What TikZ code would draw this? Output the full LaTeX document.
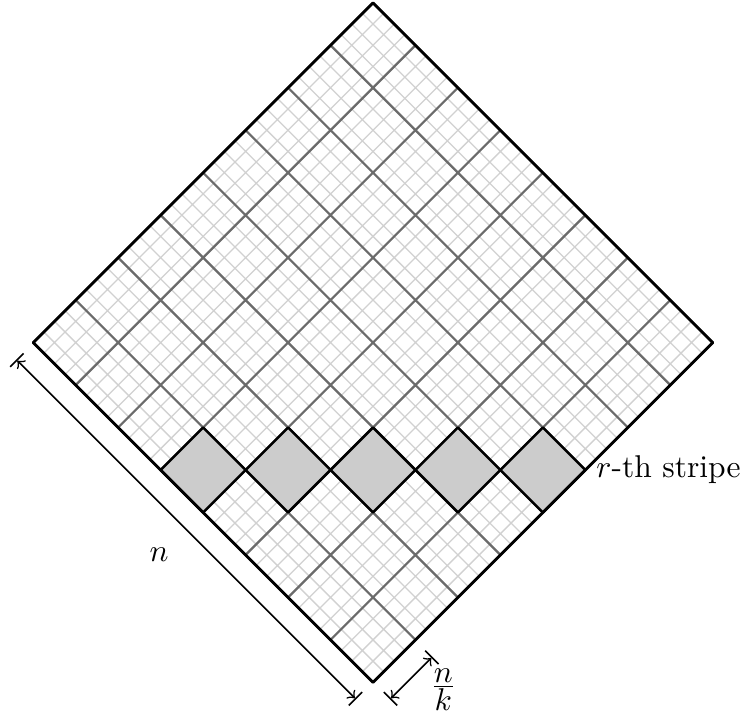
\documentclass[tikz,border=0pt]{standalone}
\begin{document}
\begin{tikzpicture}[x=0.67cm,y=0.67cm,line cap=round,line join=round]
  \def\N{8}\def\off{0.4}
  \useasboundingbox (-6.21,-0.5) rectangle (6.21,11.36);
  \begin{scope}[rotate=45]
    \draw[black!18,line width=0.4pt,step=0.25] (0,0) grid (\N,\N);
    \draw[black!58,line width=0.7pt,step=1] (0,0) grid (\N,\N);
    \foreach \i in {0,...,4}
      \filldraw[fill=black!20,draw=black,line width=0.8pt] (\i,4-\i) rectangle ++(1,1);
    \draw[line width=0.9pt] (0,0) rectangle (\N,\N);
    \coordinate (S) at (5,0);
    \coordinate (A1) at (-\off,\N); \coordinate (A2) at (-\off,0);
    \coordinate (B1) at (0,-\off); \coordinate (B2) at (1,-\off);
  \end{scope}
  \draw[|<->|,line width=0.5pt] (A1) -- (A2);
  \draw[|<->|,line width=0.5pt] (B1) -- (B2);
  \node[anchor=west] (stripe) at (S) {$r$-th stripe};
  \node (nlab) at (-3.56,2.13) {$n$};
  \node[inner sep=0pt] (nklab) at (1.17,-0.12) {$\frac{\textstyle n}{\textstyle k}$};
\end{tikzpicture}
\end{document}
